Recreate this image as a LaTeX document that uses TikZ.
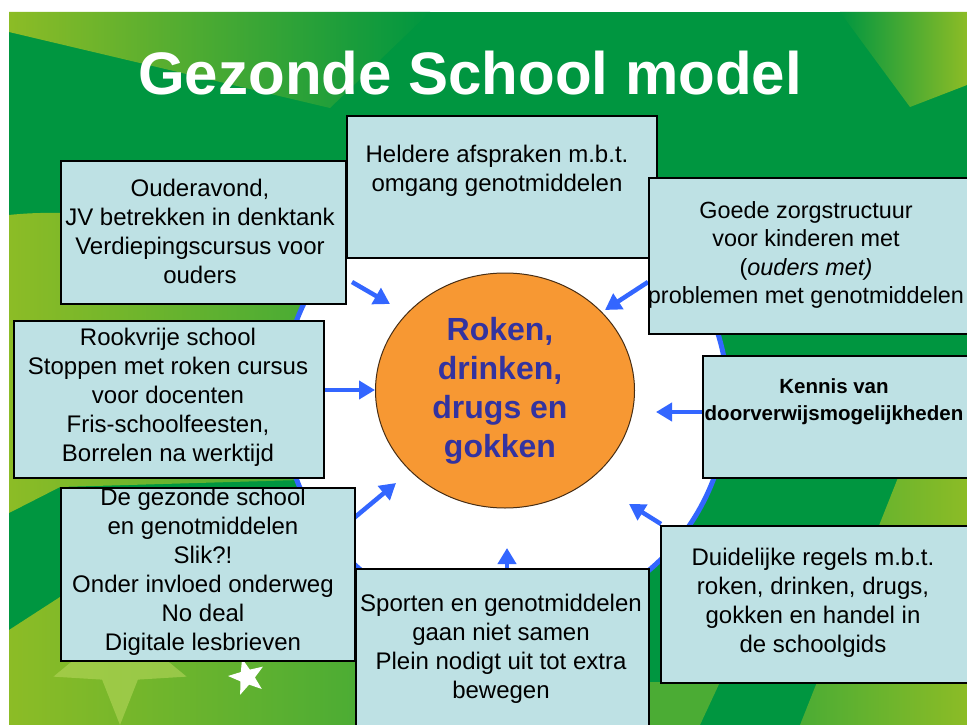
\documentclass[tikz,border=0pt]{standalone}
\usepackage{fontspec}
\setmainfont{Liberation Sans}
\usetikzlibrary{arrows.meta,shapes.geometric}

\definecolor{dkgreen}{RGB}{0,150,64}
\definecolor{ygreen}{RGB}{140,188,38}
\definecolor{mgreen}{RGB}{75,172,52}
\definecolor{boxfill}{RGB}{190,225,228}
\definecolor{arrowblue}{RGB}{51,102,255}
\definecolor{ellfill}{RGB}{247,152,51}
\definecolor{elltext}{RGB}{51,51,160}
\definecolor{palestar}{RGB}{180,214,90}

\begin{document}
\begin{tikzpicture}[x=1pt,y=-1pt,
  infobox/.style={draw=black, line width=1.6pt, fill=boxfill, anchor=north west, inner sep=0pt},
  infotext/.style={align=center, font=\fontsize{24}{29}\selectfont, text=black, inner sep=0pt},
  flow/.style={draw=arrowblue, line width=4.5pt, -{Triangle[length=16pt,width=18pt]}},
]
\useasboundingbox (0,0) rectangle (967,725);
\fill[white] (0,0) rectangle (967,725);

% background
\fill[dkgreen] (9,12) rectangle (967,725);
\shade[left color=ygreen, right color=dkgreen] (9,12) -- (430,12) -- (330,108) -- (9,32) -- cycle;
\shade[left color=ygreen, right color=mgreen] (9,215) .. controls (100,205) and (250,230) .. (300,300) -- (300,480) -- (60,487) -- (9,513) -- cycle;
\shade[left color=ygreen, right color=mgreen] (9,630) -- (60,597) -- (360,560) -- (360,725) -- (9,725) -- cycle;
\shade[left color=dkgreen, right color=ygreen] (840,12) -- (967,12) -- (967,85) -- (910,107) -- cycle;
\shade[left color=mgreen, right color=ygreen] (905,460) -- (967,460) -- (967,725) -- (800,725) -- cycle;
\fill[mgreen] (648,682) -- (720,682) -- (700,725) -- (648,725) -- cycle;
\node[star, star points=5, star point ratio=2.3, shape border rotate=180, minimum size=140pt, inner sep=0pt, fill=palestar, opacity=0.6] (palestar) at (120,655) {};
\node[star, star points=5, star point ratio=2.4, shape border rotate=15, minimum size=38pt, inner sep=0pt, fill=white] (whitestar) at (247,677) {};

% title
\node[anchor=base, text=white, font=\fontsize{60}{72}\selectfont\bfseries, inner sep=0pt] (title) at (470,95) {Gezonde School model};

% white ring
\node[circle, draw=arrowblue, line width=5pt, fill=white, minimum size=446pt, inner sep=0pt] (ring) at (505,400) {};

% centre
\node[ellipse, draw={rgb,255:red,70;green,45;blue,20}, line width=1pt, fill=ellfill, minimum width=259pt, minimum height=235pt, inner sep=0pt] (core) at (505,390.5) {};
\node[align=center, text=elltext, font=\fontsize{32}{39}\selectfont\bfseries, inner sep=0pt] (coretext) at (500,391) {Roken,\\drinken,\\drugs en\\gokken};

% arrows
\coordinate (a1s) at (352,282); \coordinate (a1e) at (390,304);
\coordinate (a2s) at (648,282); \coordinate (a2e) at (605,310);
\coordinate (a3s) at (323,390); \coordinate (a3e) at (375,390);
\coordinate (a4s) at (702,412); \coordinate (a4e) at (656,412);
\coordinate (a5s) at (354,518); \coordinate (a5e) at (396,483);
\coordinate (a6s) at (661,524); \coordinate (a6e) at (629,504);
\coordinate (a7s) at (507,570); \coordinate (a7e) at (507,548);
\draw[flow] (a1s) -- (a1e);
\draw[flow] (a2s) -- (a2e);
\draw[flow] (a3s) -- (a3e);
\draw[flow] (a4s) -- (a4e);
\draw[flow] (a5s) -- (a5e);
\draw[flow] (a6s) -- (a6e);
\draw[flow] (a7s) -- (a7e);

% boxes
\node[infobox, minimum width=310pt, minimum height=142pt] (heldere) at (346,115) {};
\node[infotext] (helderet) at (497,171) {Heldere afspraken m.b.t.\\omgang genotmiddelen};

\node[infobox, minimum width=285pt, minimum height=143pt] (ouder) at (60,160) {};
\node[infotext] (oudert) at (200,231) {Ouderavond,\\JV betrekken in denktank\\Verdiepingscursus voor\\ouders};

\node[infobox, minimum width=322pt, minimum height=156pt] (goede) at (648,177) {};
\node[infotext, font=\fontsize{23.4}{28.5}\selectfont] (goedet) at (806,255) {Goede zorgstructuur\\voor kinderen met\\(\textit{ouders met)}\\problemen met genotmiddelen};

\node[infobox, minimum width=310pt, minimum height=157pt] (rook) at (13,320) {};
\node[infotext] (rookt) at (168,397) {Rookvrije school\\Stoppen met roken cursus\\voor docenten\\Fris-schoolfeesten,\\Borrelen na werktijd};

\node[infobox, minimum width=272pt, minimum height=122pt] (kennis) at (702,355) {};
\node[infotext, font=\fontsize{20.5}{27}\selectfont\bfseries] (kennist) at (834,402) {Kennis van\\doorverwijsmogelijkheden};

\node[infobox, minimum width=294pt, minimum height=173pt] (gezond) at (60,487) {};
\node[infotext] (gezondt) at (203,572) {De gezonde school\\en genotmiddelen\\Slik?!\\Onder invloed onderweg\\No deal\\Digitale lesbrieven};

\node[infobox, minimum width=293pt, minimum height=170pt] (sport) at (355,568) {};
\node[infotext] (sportt) at (501,649) {Sporten en genotmiddelen\\gaan niet samen\\Plein nodigt uit tot extra\\bewegen};

\node[infobox, minimum width=310pt, minimum height=157pt] (regels) at (660,525) {};
\node[infotext] (regelst) at (813,603) {Duidelijke regels m.b.t.\\roken, drinken, drugs,\\gokken en handel in\\de schoolgids};
\end{tikzpicture}
\end{document}
